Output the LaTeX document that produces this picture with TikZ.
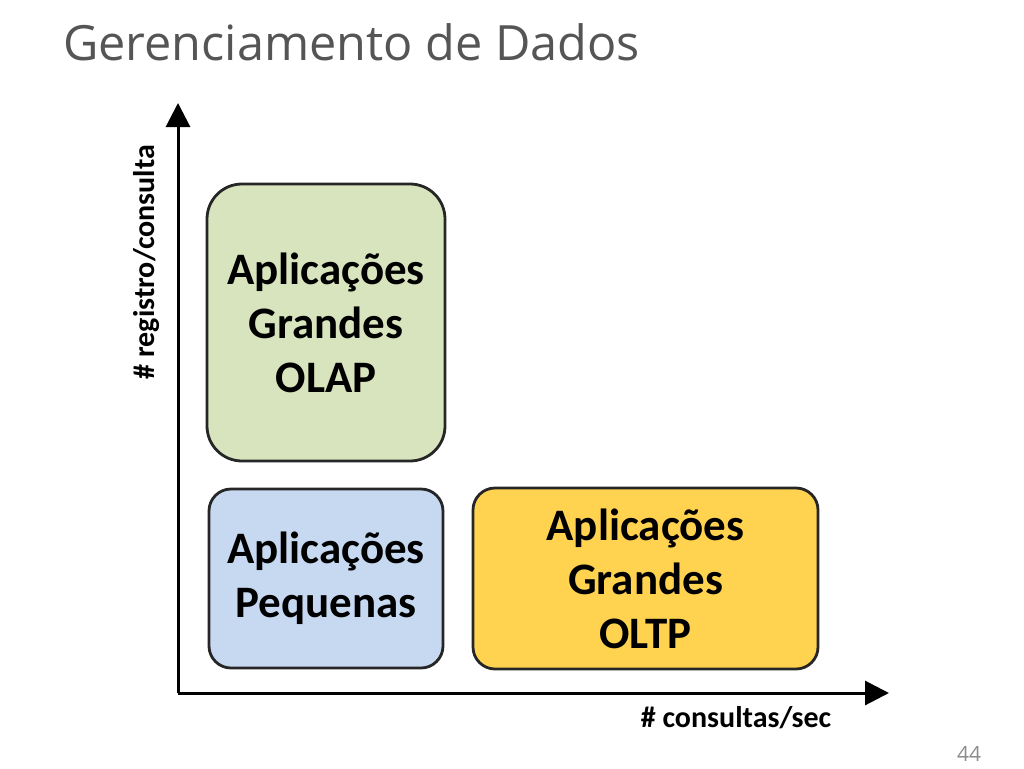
\documentclass[tikz,border=0pt]{standalone}
\usepackage{fontspec}
\setmainfont{Carlito}
\newfontfamily\titlefont{Open Sans}
\usepackage{tikz}
\usetikzlibrary{arrows.meta,positioning}
\definecolor{olapgreen}{HTML}{D7E4BD}
\definecolor{smallblue}{HTML}{C6D9F1}
\definecolor{oltpyellow}{HTML}{FFD34F}
\definecolor{titlegray}{HTML}{555555}
\tikzset{
  base/.style={font=\fontsize{45}{54}\selectfont\bfseries, align=center, inner sep=2pt, outer sep=0mm},
  appbox/.style={rectangle, draw=black!85, line width=2.8pt, base},
  axis/.style={-{Triangle[length=24pt,width=24pt]}, line width=3pt, color=black},
  axislabel/.style={font=\fontsize{30}{34}\selectfont\bfseries, inner sep=0pt}
}

\begin{document}
\begin{tikzpicture}[x=1pt, y=-1pt, node distance=28pt and 30pt]
    \useasboundingbox (0,0) rectangle (1024,768);

    \node[anchor=base west, font=\titlefont\fontsize{48.6}{58}\selectfont, text=titlegray, inner sep=0pt] (title) at (63,60) {Gerenciamento de Dados};

    \coordinate (origin) at (178,693);
    \coordinate (ytip) at (178,103);
    \coordinate (xtip) at (889,693);

    \node[appbox, fill=olapgreen, rounded corners=35pt, minimum width=238pt, minimum height=277pt] (olap) at (326,322.5) {Aplicações\\Grandes\\OLAP};
    \node[appbox, fill=smallblue, rounded corners=22pt, minimum width=234pt, minimum height=179pt, below=of olap] (small) {Aplicações\\Pequenas};
    \node[appbox, fill=oltpyellow, rounded corners=22pt, minimum width=345pt, minimum height=181pt, right=of small] (oltp) {Aplicações\\Grandes\\OLTP};

    \draw[axis] (origin) -- (ytip);
    \draw[axis] (origin) -- (xtip);

    \node[axislabel] (xlabel) at (736,718) {\# consultas/sec};
    \node[axislabel, rotate=90] (ylabel) at (147,262) {\# registro/consulta};

    \node[font=\titlefont\fontsize{21}{24}\selectfont, text=black!45, inner sep=0pt] (pagenum) at (969,754) {44};
\end{tikzpicture}
\end{document}
